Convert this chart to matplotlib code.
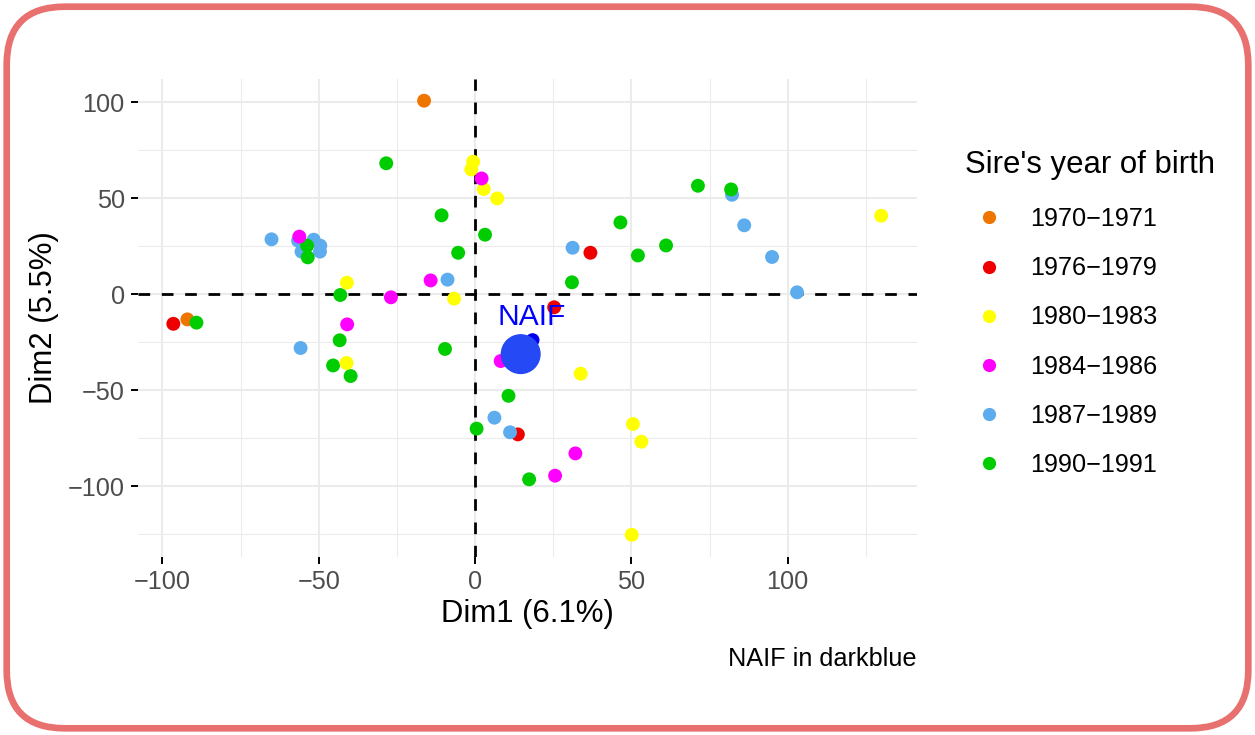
#!/usr/bin/env python
import matplotlib
matplotlib.use("Agg")
import matplotlib.pyplot as plt
from matplotlib.lines import Line2D
from matplotlib.patches import FancyBboxPatch
from matplotlib.transforms import IdentityTransform

plt.rcParams.update({
    'font.family': ['Liberation Sans', 'DejaVu Sans'],
    'axes.unicode_minus': True,
})

# --- data (Dim1, Dim2) per sire birth-year class ---
labels = ['1970\u22121971', '1976\u22121979', '1980\u22121983',
          '1984\u22121986', '1987\u22121989', '1990\u22121991']
colors = ['#EE7600', '#EE0000', '#FFFF00', '#FF00FF', '#5CACEE', '#00CD00']

g1970_x = [-16.3, -92.0]
g1970_y = [100.7, -13.2]

g1976_x = [36.9, -96.5, 25.3, 13.7]
g1976_y = [21.5, -15.5, -6.9, -73.1]

g1980_x = [-0.6, -1.2, 2.8, 7.1, -41.0, -6.7, 129.9, -41.1, 33.8, 50.5, 53.2, 50.1]
g1980_y = [68.9, 64.9, 54.7, 49.8, 5.9, -2.4, 40.8, -35.9, -41.5, -67.7, -76.9, -125.4]

g1984_x = [2.1, -56.2, -26.9, -14.2, -40.9, 8.2, 32.1, 25.6]
g1984_y = [60.2, 29.9, -1.7, 7.1, -15.8, -34.9, -83.0, -94.6]

g1987_x = [-65.1, -56.6, -51.6, -49.5, -55.5, -49.6, -8.8, 82.2, 86.1, 31.2,
           95.0, 103.0, -55.8, 6.2, 11.2]
g1987_y = [28.5, 27.8, 28.3, 25.2, 22.1, 22.1, 7.5, 51.7, 35.8, 24.1,
           19.3, 0.9, -28.1, -64.4, -72.0]

g1990_x = [-28.4, -10.7, 3.2, -5.4, -53.7, -53.5, -43.1, 71.3, 81.9, 46.5, 52.1,
           61.1, 31.0, -89.1, -43.3, -45.4, -39.8, -9.6, 0.5, 10.7, 17.3]
g1990_y = [68.1, 41.0, 30.9, 21.5, 25.2, 19.1, -0.5, 56.4, 54.5, 37.3, 20.1,
           25.3, 6.1, -14.9, -24.1, -37.2, -42.7, -28.6, -70.1, -53.0, -96.5]

naif_x, naif_y = 18.4, -24.0          # NAIF individual
naif_mean_x, naif_mean_y = 14.6, -31.3  # large NAIF marker

groups = [(g1970_x, g1970_y), (g1976_x, g1976_y), (g1980_x, g1980_y),
          (g1984_x, g1984_y), (g1987_x, g1987_y), (g1990_x, g1990_y)]
draw_order = [0, 1, 4, 5, 2, 3]

W, H = 1255, 735
small, big = 18.2, 22.4

fig = plt.figure(figsize=(W / 100, H / 100), dpi=100)
fig.patch.set_facecolor('white')

# rounded frame
frame = FancyBboxPatch((6.7, 6.7), W - 13.4, H - 13.4,
                       boxstyle="round,pad=0,rounding_size=58",
                       transform=IdentityTransform(), facecolor='none',
                       edgecolor='#E8706F', linewidth=4.8, zorder=10)
fig.add_artist(frame)

ax = fig.add_axes([138 / W, 1 - 556.5 / H, (916.5 - 138) / W, (556.5 - 79) / H])
ax.set_xlim(-107.8, 141.2)
ax.set_ylim(-136.7, 112.0)

for s in ax.spines.values():
    s.set_visible(False)

ax.set_xticks([-100, -50, 0, 50, 100])
ax.set_yticks([-100, -50, 0, 50, 100])
ax.set_xticks([-75, -25, 25, 75, 125], minor=True)
ax.set_yticks([-125, -75, -25, 25, 75], minor=True)
ax.grid(which='major', color='#EBEBEB', linewidth=1.5, zorder=0)
ax.grid(which='minor', color='#EBEBEB', linewidth=0.75, zorder=0)
ax.set_axisbelow(True)
ax.tick_params(which='major', length=5, width=1.4, color='black',
               labelsize=small, labelcolor='#4D4D4D', pad=4.5)
ax.tick_params(which='minor', length=0)

ax.axhline(0, color='black', linewidth=2.0, dashes=(4.2, 4.2), zorder=1)
ax.axvline(0, color='black', linewidth=2.0, dashes=(4.2, 4.2), zorder=1)

for i in draw_order:
    gx, gy = groups[i]
    ax.scatter(gx, gy, s=100, color=colors[i], edgecolors='none', zorder=3)

ax.scatter([naif_x], [naif_y], s=100, color='#0000EE', edgecolors='none', zorder=4)
ax.scatter([naif_mean_x], [naif_mean_y], s=830, color='#2449F5',
           edgecolors='none', zorder=5)
ax.text(naif_x - 0.4, -16.1, 'NAIF', color='#0000FF', fontsize=21.6,
        ha='center', va='baseline', zorder=6)

ax.set_xlabel('Dim1 (6.1%)', fontsize=big, labelpad=4)
ax.set_ylabel('Dim2 (5.5%)', fontsize=big, labelpad=6)

fig.text(917 / W, 1 - 666 / H, 'NAIF in darkblue', fontsize=small,
         ha='right', va='baseline')

# legend
fig.text(965 / W, 1 - 173 / H, "Sire's year of birth", fontsize=big,
         ha='left', va='baseline')
for i, lab in enumerate(labels):
    yc = 217.3 + 49.2 * i
    fig.add_artist(Line2D([989 / W], [1 - yc / H], marker='o', markersize=9.5,
                          color=colors[i], markeredgewidth=0, linestyle='none',
                          transform=fig.transFigure))
    fig.text(1030 / W, 1 - (yc + 8.7) / H, lab, fontsize=small,
             ha='left', va='baseline')

fig.savefig('out.png', dpi=100)
